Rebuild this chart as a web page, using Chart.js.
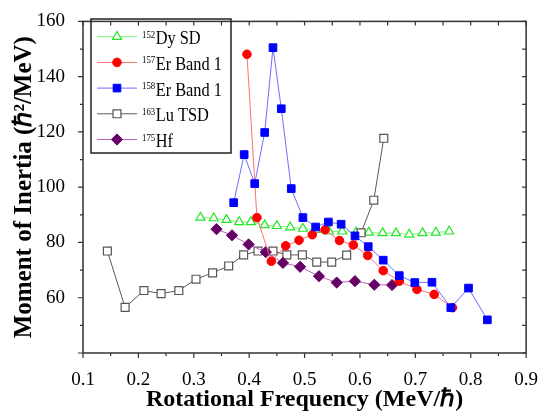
<!DOCTYPE html>
<html>
<head>
<meta charset="utf-8">
<script src="https://cdn.jsdelivr.net/npm/chart.js@4.4.1/dist/chart.umd.min.js"></script>
<style>
    html, body { margin: 0; padding: 0; background: #fff; }
</style>
</head>
<body>
<canvas id="chart" width="546" height="419"></canvas>
<script>
/** DATA */
// 152Dy SD
const dyX = [0.312, 0.336, 0.359, 0.382, 0.403, 0.428, 0.450, 0.474, 0.497, 0.521,
             0.544, 0.568, 0.593, 0.616, 0.641, 0.665, 0.689, 0.713, 0.737, 0.761];
const dyY = [89.0, 88.8, 88.2, 87.4, 87.4, 86.3, 86.0, 85.5, 85.0, 84.6,
             84.0, 84.0, 83.6, 83.6, 83.4, 83.4, 82.9, 83.4, 83.6, 84.0];

// 157Er Band 1
const er157X = [0.396, 0.414, 0.440, 0.466, 0.490, 0.514, 0.537, 0.563, 0.588, 0.614,
                0.642, 0.671, 0.703, 0.734, 0.767];
const er157Y = [148.1, 89.0, 73.2, 78.8, 80.8, 82.8, 84.6, 80.7, 79.1, 75.3,
                69.8, 66.0, 63.0, 61.2, 56.4];

// 158Er Band 1
const er158X = [0.372, 0.391, 0.410, 0.428, 0.443, 0.458, 0.476, 0.497, 0.520, 0.543,
                0.566, 0.591, 0.615, 0.642, 0.671, 0.699, 0.730, 0.764, 0.796, 0.830];
const er158Y = [94.4, 111.8, 101.3, 119.8, 150.5, 128.4, 99.5, 89.0, 85.6, 87.4,
                86.6, 82.4, 78.5, 73.6, 68.0, 65.5, 65.6, 56.4, 63.5, 52.0];

// 163Lu TSD
const luX = [0.144, 0.176, 0.210, 0.241, 0.273, 0.304, 0.334, 0.363, 0.390, 0.416,
             0.443, 0.468, 0.496, 0.522, 0.549, 0.576, 0.602, 0.625, 0.643];
const luY = [76.9, 56.5, 62.6, 61.5, 62.6, 66.7, 69.0, 71.5, 75.5, 76.9,
             76.9, 75.5, 75.5, 72.9, 72.9, 75.4, 83.5, 95.3, 117.7];

// 175Hf
const hfX = [0.341, 0.369, 0.399, 0.430, 0.461, 0.492, 0.526, 0.558, 0.591, 0.626, 0.658];
const hfY = [84.8, 82.6, 79.3, 76.5, 72.6, 71.2, 67.8, 65.5, 66.0, 64.7, 64.6];

const xTicks = [0.1, 0.2, 0.3, 0.4, 0.5, 0.6, 0.7, 0.8, 0.9];
const yTicks = [60, 80, 100, 120, 140, 160];

/** HELPERS */
function toPoints(xs, ys) {
    return xs.map((x, i) => ({ x: x, y: ys[i] }));
}

const SERIF = '"Liberation Serif", "Times New Roman", serif';

// legend entries: mass number, label, dataset index
const legendItems = [
    { mass: '152', text: 'Dy SD', ds: 0 },
    { mass: '157', text: 'Er Band 1', ds: 1 },
    { mass: '158', text: 'Er Band 1', ds: 2 },
    { mass: '163', text: 'Lu TSD', ds: 3 },
    { mass: '175', text: 'Hf', ds: 4 }
];

function drawMarker(ctx, ds, x, y) {
    ctx.fillStyle = ds.pointBackgroundColor;
    ctx.strokeStyle = ds.pointBorderColor;
    ctx.lineWidth = ds.pointBorderWidth;
    Chart.helpers.drawPoint(ctx, {
        pointStyle: ds.pointStyle,
        radius: ds.pointRadius,
        borderWidth: ds.pointBorderWidth,
        rotation: 0
    }, x, y);
}

/** PLUGINS */
const framePlugin = {
    id: 'frame',
    beforeDatasetsDraw(chart) {
        const { ctx, chartArea: a, scales } = chart;
        ctx.save();
        ctx.strokeStyle = '#333';
        ctx.lineWidth = 1.5;
        ctx.strokeRect(a.left, a.top, a.right - a.left, a.bottom - a.top);

        ctx.lineWidth = 1.2;
        ctx.beginPath();
        // x ticks, every 0.05
        for (let i = 0; i <= 16; i++) {
            const px = scales.x.getPixelForValue(0.1 + i * 0.05);
            const len = (i % 2 === 0) ? 5 : 3;
            ctx.moveTo(px, a.bottom);
            ctx.lineTo(px, a.bottom + len);
            ctx.moveTo(px, a.top);
            ctx.lineTo(px, a.top + 4);
        }
        // y ticks, every 10
        for (let i = 0; i <= 12; i++) {
            const py = scales.y.getPixelForValue(40 + i * 10);
            const len = (i % 2 === 0) ? 5 : 3;
            ctx.moveTo(a.left, py);
            ctx.lineTo(a.left - len, py);
            ctx.moveTo(a.right, py);
            ctx.lineTo(a.right - 4, py);
        }
        ctx.stroke();
        ctx.restore();
    }
};

const legendPlugin = {
    id: 'customLegend',
    afterDraw(chart) {
        const ctx = chart.ctx;
        ctx.save();
        ctx.strokeStyle = '#222';
        ctx.lineWidth = 1.5;
        ctx.strokeRect(91, 19, 140, 134);

        legendItems.forEach((item, i) => {
            const ds = chart.data.datasets[item.ds];
            const cy = 36.7 + i * 25.7;

            ctx.strokeStyle = ds.borderColor;
            ctx.lineWidth = 1;
            ctx.beginPath();
            ctx.moveTo(97, cy);
            ctx.lineTo(137, cy);
            ctx.stroke();
            drawMarker(ctx, ds, 117, cy);

            ctx.fillStyle = '#000';
            ctx.textBaseline = 'alphabetic';
            ctx.textAlign = 'left';
            ctx.font = '10px ' + SERIF;
            const w = ctx.measureText(item.mass).width * 0.88;
            ctx.fillText(item.mass, 142, cy + 1, w);
            ctx.font = '19px ' + SERIF;
            const tw = ctx.measureText(item.text).width * 0.86;
            ctx.fillText(item.text, 142 + w + 0.5, cy + 7.5, tw);
        });
        ctx.restore();
    }
};

/** CHART */
function makeDataset(label, xs, ys, style, order) {
    return Object.assign({
        label: label,
        data: toPoints(xs, ys),
        showLine: true,
        borderWidth: 1,
        pointBorderWidth: 1,
        order: order
    }, style);
}

const datasets = [
    makeDataset('152Dy SD', dyX, dyY, {
        borderColor: 'rgb(120,245,120)',
        pointStyle: 'triangle', pointRadius: 5.2,
        pointBackgroundColor: '#fff', pointBorderColor: '#22e622', pointBorderWidth: 1.2
    }, 5),
    makeDataset('157Er Band 1', er157X, er157Y, {
        borderColor: 'rgb(255,110,110)',
        pointStyle: 'circle', pointRadius: 4.3,
        pointBackgroundColor: '#ff0000', pointBorderColor: '#ff0000'
    }, 2),
    makeDataset('158Er Band 1', er158X, er158Y, {
        borderColor: 'rgb(110,110,255)',
        pointStyle: 'rect', pointRadius: 5.4,
        pointBackgroundColor: '#0000ff', pointBorderColor: '#0000ff'
    }, 1),
    makeDataset('163Lu TSD', luX, luY, {
        borderColor: 'rgb(90,90,90)',
        pointStyle: 'rect', pointRadius: 5.6,
        pointBackgroundColor: '#fff', pointBorderColor: '#555', pointBorderWidth: 1.2
    }, 4),
    makeDataset('175Hf', hfX, hfY, {
        borderColor: 'rgb(190,100,190)',
        pointStyle: 'rectRot', pointRadius: 5.6,
        pointBackgroundColor: '#660066', pointBorderColor: '#660066'
    }, 3)
];

const ctx = document.getElementById('chart').getContext('2d');
new Chart(ctx, {
    type: 'scatter',
    data: { datasets: datasets },
    options: {
        responsive: false,
        animation: false,
        layout: { padding: { top: 11, right: 14, left: 0, bottom: 0 } },
        plugins: {
            legend: { display: false },
            tooltip: { enabled: false }
        },
        scales: {
            x: {
                type: 'linear',
                min: 0.1, max: 0.9,
                afterFit: (s) => { s.height = 66; },
                afterBuildTicks: (s) => { s.ticks = xTicks.map(v => ({ value: v })); },
                grid: { display: false },
                border: { display: false },
                ticks: {
                    padding: 8,
                    color: '#000',
                    font: { family: SERIF, size: 19 },
                    callback: (v) => v.toFixed(1)
                },
                title: {
                    display: true,
                    text: 'Rotational Frequency (MeV/ℏ)',
                    color: '#000',
                    font: { family: SERIF, size: 24, weight: 'bold' },
                    padding: { top: 0, bottom: 5 }
                }
            },
            y: {
                type: 'linear',
                min: 40, max: 160,
                afterFit: (s) => { s.width = 83; },
                afterBuildTicks: (s) => { s.ticks = yTicks.map(v => ({ value: v })); },
                grid: { display: false },
                border: { display: false },
                ticks: {
                    padding: 10,
                    color: '#000',
                    font: { family: SERIF, size: 19 },
                    callback: (v) => String(v)
                },
                title: {
                    display: true,
                    text: 'Moment of Inertia (ℏ²/MeV)',
                    color: '#000',
                    font: { family: SERIF, size: 25, weight: 'bold' },
                    padding: { top: 10, bottom: 0 }
                }
            }
        }
    },
    plugins: [framePlugin, legendPlugin]
});
</script>
</body>
</html>
